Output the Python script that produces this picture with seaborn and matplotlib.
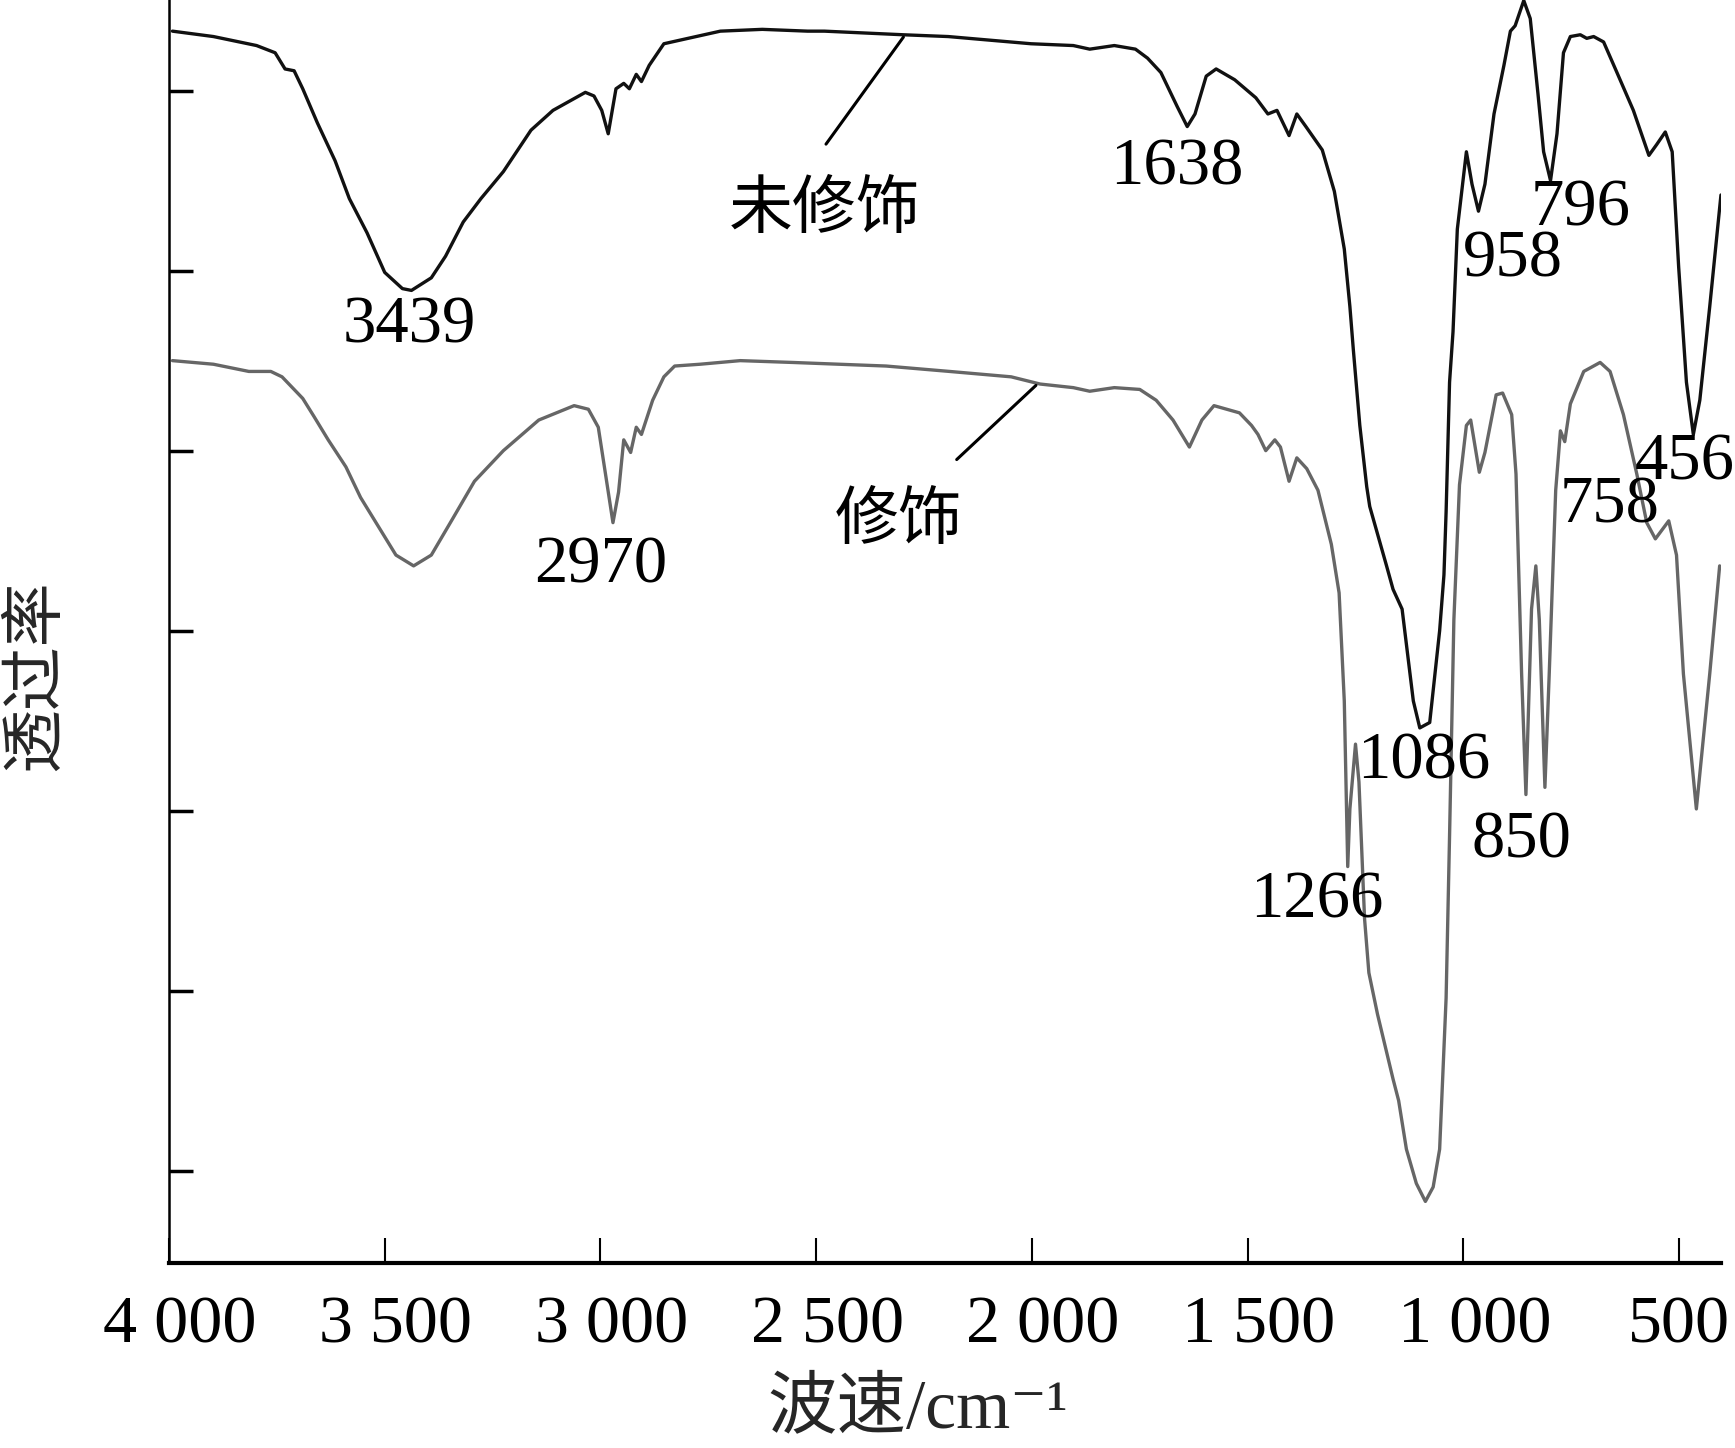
import matplotlib.pyplot as plt
import matplotlib.transforms as mtransforms
import numpy as np
import pandas as pd
import seaborn as sns

# 未修饰 (black curve): wavenumber / transmittance (arbitrary units)
wn_raw = [3992, 3897, 3797, 3754, 3731, 3710, 3690, 3656, 3615, 3582, 3541, 3500,
          3459, 3438, 3392, 3359, 3318, 3277, 3225, 3161, 3110, 3035, 3015, 2997,
          2982, 2964, 2946, 2933, 2917, 2905, 2887, 2853, 2797, 2722, 2625, 2520,
          2481, 2299, 2194, 2002, 1904, 1866, 1809, 1760, 1732, 1701, 1663, 1640,
          1622, 1596, 1573, 1530, 1481, 1453, 1432, 1404, 1386, 1365, 1327, 1299,
          1276, 1263, 1255, 1240, 1224, 1217, 1178, 1163, 1142, 1116, 1101, 1078,
          1055, 1045, 1040, 1032, 1024, 1014, 993, 980, 965, 950, 929, 906, 891,
          880, 860, 845, 827, 814, 798, 783, 768, 752, 729, 714, 698, 675, 644,
          606, 570, 552, 532, 516, 501, 483, 467, 452, 429, 403]
t_raw = [7.33, 7.30, 7.25, 7.21, 7.12, 7.11, 7.01, 6.82, 6.61, 6.40, 6.21, 5.99,
         5.90, 5.89, 5.96, 6.08, 6.27, 6.40, 6.55, 6.78, 6.89, 6.99, 6.97, 6.89,
         6.76, 7.01, 7.04, 7.01, 7.09, 7.05, 7.14, 7.26, 7.29, 7.33, 7.34, 7.33,
         7.33, 7.31, 7.30, 7.26, 7.25, 7.23, 7.25, 7.23, 7.18, 7.10, 6.91, 6.80,
         6.87, 7.08, 7.12, 7.06, 6.96, 6.87, 6.89, 6.75, 6.87, 6.80, 6.67, 6.44,
         6.12, 5.80, 5.56, 5.14, 4.80, 4.69, 4.36, 4.23, 4.12, 3.61, 3.46, 3.49,
         4.00, 4.31, 4.66, 5.38, 5.66, 6.23, 6.66, 6.48, 6.33, 6.48, 6.87, 7.14, 7.33,
         7.36, 7.50, 7.40, 6.98, 6.66, 6.50, 6.76, 7.21, 7.30, 7.31, 7.29, 7.30, 7.27, 7.10,
         6.89, 6.64, 6.70, 6.77, 6.66, 6.02, 5.38, 5.09, 5.28, 5.80, 6.42]

# 修饰 (gray curve)
wn_mod = [3992, 3897, 3815, 3764, 3738, 3690, 3664, 3631, 3590, 3556, 3515, 3474,
          3433, 3392, 3343, 3292, 3225, 3143, 3061, 3028, 3005, 2987, 2971, 2958,
          2946, 2930, 2917, 2905, 2879, 2853, 2828, 2769, 2676, 2556, 2338, 2191,
          2048, 1981, 1904, 1866, 1809, 1750, 1712, 1673, 1635, 1606, 1578, 1519,
          1491, 1476, 1458, 1437, 1424, 1404, 1386, 1363, 1337, 1306, 1288, 1276,
          1268, 1263, 1250, 1242, 1229, 1219, 1199, 1178, 1163, 1150, 1132, 1109,
          1088, 1070, 1055, 1040, 1032, 1022, 1009, 993, 983, 963, 950, 924, 909,
          888, 878, 865, 855, 842, 832, 824, 811, 801, 786, 775, 765, 752, 721,
          683, 660, 629, 598, 575, 555, 524, 506, 490, 460, 429, 406]
t_mod = [5.50, 5.48, 5.44, 5.44, 5.41, 5.29, 5.19, 5.06, 4.91, 4.74, 4.58, 4.42,
         4.36, 4.42, 4.62, 4.83, 5.00, 5.17, 5.25, 5.23, 5.13, 4.85, 4.60, 4.77,
         5.06, 4.99, 5.13, 5.09, 5.28, 5.41, 5.47, 5.48, 5.50, 5.49, 5.47, 5.44,
         5.41, 5.37, 5.35, 5.33, 5.35, 5.34, 5.28, 5.17, 5.02, 5.17, 5.25, 5.21,
         5.14, 5.09, 5.00, 5.06, 5.02, 4.83, 4.96, 4.90, 4.78, 4.48, 4.21, 3.61,
         2.69, 3.01, 3.37, 3.16, 2.40, 2.10, 1.87, 1.66, 1.51, 1.39, 1.12, 0.93,
         0.83, 0.91, 1.12, 1.96, 2.86, 4.06, 4.81, 5.14, 5.17, 4.88, 4.99, 5.31, 5.32,
         5.20, 4.87, 3.76, 3.09, 4.12, 4.36, 4.06, 3.13, 3.76, 4.78, 5.11, 5.05, 5.26, 5.44,
         5.49, 5.44, 5.20, 4.87, 4.60, 4.51, 4.61, 4.42, 3.76, 3.01, 3.76, 4.36]

x_ticks = [4000, 3500, 3000, 2500, 2000, 1500, 1000, 500]
x_tick_labels = ["4 000", "3 500", "3 000", "2 500", "2 000", "1 500", "1 000", "500"]
y_ticks = [1, 2, 3, 4, 5, 6, 7]

peak_labels = ["3439", "2970", "1638", "958", "796", "456", "758", "1086", "850", "1266"]
peak_pos = [(3443, 5.69), (3000, 4.36), (1665, 6.57), (886, 6.06), (729, 6.34),
            (488, 4.93), (660, 4.69), (1091, 3.27), (865, 2.83), (1340, 2.50)]

sns.set_theme(style="ticks")
plt.rcParams["font.family"] = ["Liberation Serif", "Noto Sans CJK SC", "DejaVu Sans"]

fig = plt.figure(figsize=(17.35, 14.48), dpi=100)
ax = fig.add_axes([0.0974, 0.128, 0.8945, 0.872])

df_raw = pd.DataFrame({"wn": wn_raw, "t": t_raw})
df_mod = pd.DataFrame({"wn": wn_mod, "t": t_mod})
sns.lineplot(data=df_raw, x="wn", y="t", ax=ax, color="#111111", lw=2.4, estimator=None)
sns.lineplot(data=df_mod, x="wn", y="t", ax=ax, color="#666666", lw=2.4, estimator=None)

ax.set_xlim(4000, 403)
ax.set_ylim(0.49, 7.503)
ax.set_xticks(x_ticks)
ax.set_xticklabels(x_tick_labels)
ax.set_yticks(y_ticks)
ax.set_yticklabels([])
ax.set_xlabel("")
ax.set_ylabel("")

for s in ["top", "right"]:
    ax.spines[s].set_visible(False)
ax.spines["bottom"].set_linewidth(3)
ax.spines["left"].set_linewidth(1.8)
ax.spines["bottom"].set_color("black")
ax.spines["left"].set_color("black")
ax.tick_params(axis="x", direction="in", length=18, width=1.5, pad=24,
               labelsize=49, colors="black")
ax.tick_params(axis="y", direction="in", length=17, width=2.5, colors="black")

# the spaced labels sit a little right of their ticks in the reference
shift = mtransforms.ScaledTranslation(8 / 72, 0, fig.dpi_scale_trans)
for lbl in ax.get_xticklabels():
    if " " in lbl.get_text():
        lbl.set_transform(lbl.get_transform() + shift)

for lab, (wx, ty) in zip(peak_labels, peak_pos):
    ax.text(wx, ty, lab, fontsize=48, ha="center", va="center", color="black")

# curve name labels with leader lines
ax.text(2481, 6.34, "未修饰", fontsize=46, ha="center", va="center", color="black",
        family=["Noto Sans CJK SC"])
ax.annotate("", xy=(2294, np.interp(2294, wn_raw[::-1], t_raw[::-1])),
            xytext=(2481, 6.69), arrowprops=dict(arrowstyle="-", lw=2.2, color="black"))
ax.text(2309, 4.61, "修饰", fontsize=46, ha="center", va="center", color="black",
        family=["Noto Sans CJK SC"])
ax.annotate("", xy=(1986, np.interp(1986, wn_mod[::-1], t_mod[::-1])),
            xytext=(2179, 4.94), arrowprops=dict(arrowstyle="-", lw=2.2, color="black"))

fig.text(0.529, 0.026, "波速/cm⁻¹", fontsize=50, ha="center", va="center")
fig.text(0.02, 0.534, "透过率", fontsize=46, ha="center", va="center", rotation=90,
         family=["Noto Sans CJK SC"])

fig.savefig("out.png", dpi=100)
